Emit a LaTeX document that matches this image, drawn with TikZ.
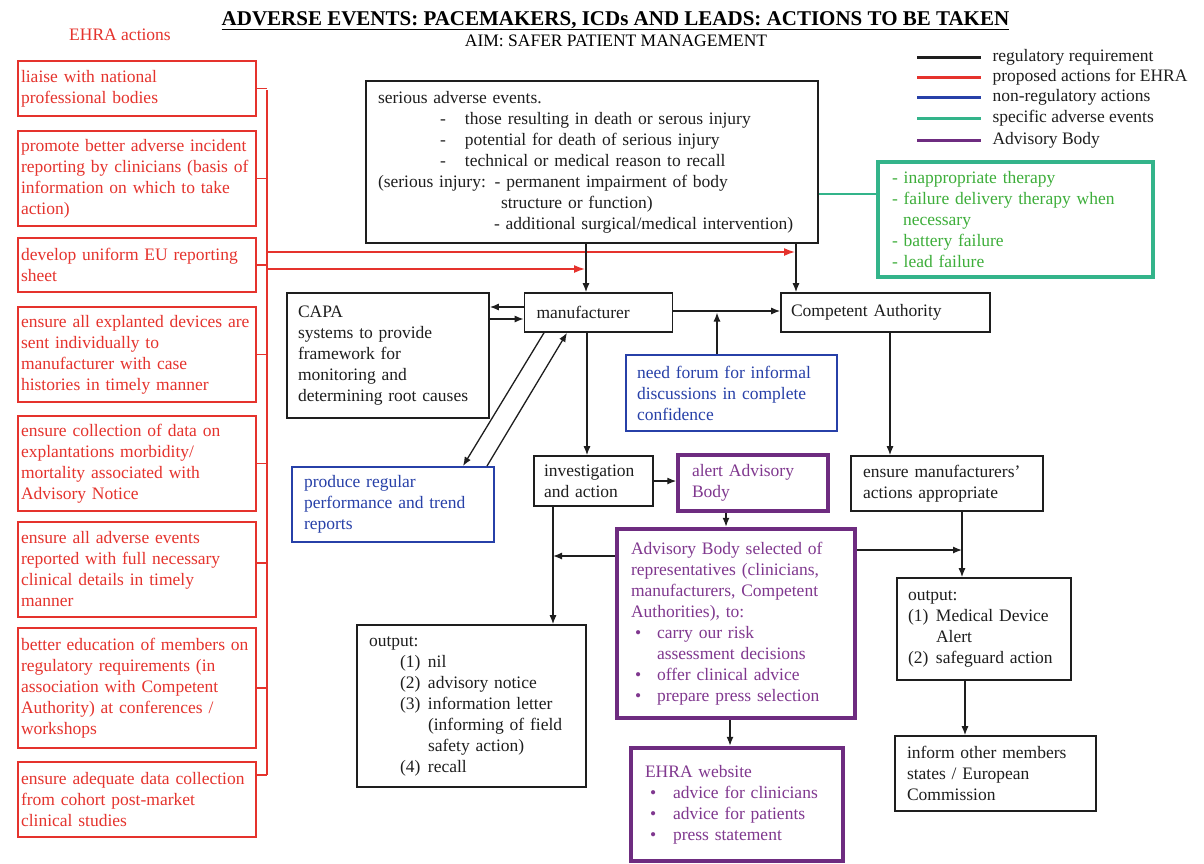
\documentclass[tikz,border=0pt]{standalone}
\usepackage{fontspec}
\setmainfont{Liberation Serif}
\usetikzlibrary{arrows.meta}
\definecolor{ehrared}{HTML}{E5332D}
\definecolor{nrblue}{HTML}{2740A8}
\definecolor{abline}{HTML}{6E2C80}
\definecolor{abtext}{HTML}{80388F}
\definecolor{segreen}{HTML}{33B48A}
\definecolor{setext}{HTML}{3DAE3A}
\definecolor{inkblack}{HTML}{1E1E1E}
\newcommand\abul{\hspace*{4pt}\makebox[22pt][l]{\textbullet}}
\newcommand\wbul{\hspace*{5pt}\makebox[23pt][l]{\textbullet}}
\begin{document}
\begin{tikzpicture}[x=1pt,y=-1pt,
  every node/.style={font=\fontsize{17.5}{21}\selectfont, inner ysep=0pt},
  redbox/.style={draw=ehrared, line width=2pt, text=ehrared, minimum width=238pt, text width=232pt, inner xsep=3pt, align=left},
  blkbox/.style={draw=inkblack, line width=1.6pt, text=inkblack, align=left},
  bluebox/.style={draw=nrblue, line width=2pt, text=nrblue, align=left},
  purbox/.style={draw=abline, line width=#1, text=abtext, align=left},
  arr/.style={draw=inkblack, line width=1.3pt, -{Latex[length=9pt,width=7pt]}},
  redln/.style={draw=ehrared, line width=1.5pt},
  redarr/.style={draw=ehrared, line width=1.5pt, -{Latex[length=11pt,width=8pt]}},
]
\fill[white] (0,0) rectangle (1204,863);
\useasboundingbox (0,0) rectangle (1204,863);

% titles
\node[anchor=base, font=\fontsize{21}{24}\selectfont\bfseries] (title) at (615.5,25) {\underline{ADVERSE EVENTS: PACEMAKERS, ICDs AND LEADS: ACTIONS TO BE TAKEN}};
\node[anchor=base] (aim) at (616,46) {AIM: SAFER PATIENT MANAGEMENT};
\node[anchor=base, text=ehrared] (ehra) at (120,40) {EHRA actions};

% legend
\foreach \y/\c/\t [count=\i] in {57/inkblack/regulatory requirement, 77/ehrared/proposed actions for EHRA, 97/nrblue/non-regulatory actions, 118/segreen/specific adverse events, 140/abline/Advisory Body}{
  \draw[\c, line width=3pt] (917,\y) -- (981,\y);
  \node[anchor=west, text=inkblack] (leg\i) at (989,\y) {\t};
}

% EHRA action boxes
\node[redbox, minimum height=55pt] (r1) at (137,88.5) {liaise with national\\professional bodies};
\node[redbox, minimum height=95pt] (r2) at (137,178.5) {promote better adverse incident\\reporting by clinicians (basis of\\information on which to take\\action)};
\node[redbox, minimum height=54pt] (r3) at (137,265) {develop uniform EU reporting\\sheet};
\node[redbox, minimum height=95pt] (r4) at (137,354.5) {ensure all explanted devices are\\sent individually to\\manufacturer with case\\histories in timely manner};
\node[redbox, minimum height=95pt] (r5) at (137,463.5) {ensure collection of data on\\explantations morbidity/\\mortality associated with\\Advisory Notice};
\node[redbox, minimum height=95pt] (r6) at (137,569.5) {ensure all adverse events\\reported with full necessary\\clinical details in timely\\manner};
\node[redbox, minimum height=120pt] (r7) at (137,688) {better education of members on\\regulatory requirements (in\\association with Competent\\Authority) at conferences /\\workshops};
\node[redbox, minimum height=75pt] (r8) at (137,799.5) {ensure adequate data collection\\from cohort post-market\\clinical studies};

% main boxes
\node[blkbox, minimum width=452pt, minimum height=162pt, text width=428pt, inner xsep=12pt] (sae) at (592,162) {serious adverse events.\\
\hspace*{62pt}\makebox[25pt][l]{-}those resulting in death or serous injury\\
\hspace*{62pt}\makebox[25pt][l]{-}potential for death of serious injury\\
\hspace*{62pt}\makebox[25pt][l]{-}technical or medical reason to recall\\
(serious injury: - permanent impairment of body\\
\hspace*{123pt}structure or function)\\
\hspace*{116pt}- additional surgical/medical intervention)};

\node[draw=segreen, line width=4pt, text=setext, align=left, minimum width=275pt, minimum height=115pt, text width=247pt, inner xsep=14pt] (spec) at (1015.5,219.5) {- inappropriate therapy\\- failure delivery therapy when\\\hspace*{11pt}necessary\\- battery failure\\- lead failure};

\node[blkbox, minimum width=202pt, minimum height=125pt, text width=180pt, inner xsep=11pt] (capa) at (388,355.5) {CAPA\\systems to provide\\framework for\\monitoring and\\determining root causes};
\node[blkbox, minimum width=148pt, minimum height=39pt, text width=124pt, inner xsep=12pt] (man) at (598.5,312.5) {manufacturer};
\node[blkbox, minimum width=209pt, minimum height=39pt, text width=189pt, inner xsep=10pt] (comp) at (885.5,312.5) {Competent Authority};
\node[bluebox, minimum width=202pt, minimum height=75pt, text width=178pt, inner xsep=12pt] (prod) at (393,504.5) {produce regular\\performance and trend\\reports};
\node[bluebox, minimum width=211pt, minimum height=76pt, text width=189pt, inner xsep=11pt] (need) at (731.5,393) {need forum for informal\\discussions in complete\\confidence};
\node[blkbox, minimum width=119pt, minimum height=50pt, text width=99pt, inner xsep=10pt] (inv) at (593.5,481) {investigation\\and action};
\node[purbox=3.5pt, minimum width=150pt, minimum height=56pt, text width=122pt, inner xsep=14pt] (alert) at (753,483) {alert Advisory\\Body};
\node[blkbox, minimum width=192pt, minimum height=55pt, text width=168pt, inner xsep=12pt] (ens) at (947,483.5) {ensure manufacturers'\\actions appropriate};
\node[purbox=4.5pt, minimum width=238pt, minimum height=189pt, text width=210pt, inner xsep=14pt] (adv) at (736,623.5) {Advisory Body selected of\\representatives (clinicians,\\manufacturers, Competent\\Authorities), to:\\
\abul carry our risk\\\hspace*{26pt}assessment decisions\\\abul offer clinical advice\\\abul prepare press selection};
\node[purbox=4.5pt, minimum width=212pt, minimum height=113pt, text width=184pt, inner xsep=14pt] (web) at (737,804.5) {EHRA website\\\wbul advice for clinicians\\\wbul advice for patients\\\wbul press statement};
\node[blkbox, minimum width=229pt, minimum height=162pt, text width=205pt, inner xsep=12pt] (out1) at (471.5,706) {output:\\
\hspace*{31pt}\makebox[28pt][l]{(1)}nil\\
\hspace*{31pt}\makebox[28pt][l]{(2)}advisory notice\\
\hspace*{31pt}\makebox[28pt][l]{(3)}information letter\\
\hspace*{59pt}(informing of field\\
\hspace*{59pt}safety action)\\
\hspace*{31pt}\makebox[28pt][l]{(4)}recall};
\node[blkbox, minimum width=174pt, minimum height=102pt, text width=152pt, inner xsep=11pt] (out2) at (984,629) {output:\\\makebox[28pt][l]{(1)}Medical Device\\\hspace*{28pt}Alert\\\makebox[28pt][l]{(2)}safeguard action};
\node[blkbox, minimum width=201pt, minimum height=75pt, text width=177pt, inner xsep=12pt] (inf) at (995.5,773.5) {inform other members\\states / European\\Commission};

% red bus and stubs
\coordinate (bustop) at (267,90);
\coordinate (busbot) at (267,775);
\coordinate (redA) at (267,252);
\coordinate (redB) at (267,269);
\draw[redln] (bustop) -- (busbot);
\foreach \n in {r1,r2,r3,r4,r5,r7}{\draw[redln] (\n.east) -- (\n.east -| bustop);}
\draw[redln] ([yshift=6.5pt]r6.east) -- ([yshift=6.5pt]r6.east -| bustop);
\draw[redln] (r8.east |- busbot) -- (busbot);
\draw[redarr] (redA) -- ([xshift=-90.5pt]comp.north |- redA);
\draw[redarr] (redB) -- ([xshift=-13.5pt]man.north |- redB);

% black connectors
\draw[arr] ([xshift=-12.5pt]man.north |- sae.south) -- ([xshift=-12.5pt]man.north);
\draw[arr] ([xshift=-89.5pt]comp.north |- sae.south) -- ([xshift=-89.5pt]comp.north);
\draw[arr] ([yshift=5.5pt]man.west) -- ([yshift=5.5pt]man.west -| capa.east);
\draw[arr] ([yshift=-6.5pt]man.west -| capa.east) -- ([yshift=-6.5pt]man.west);
\draw[arr] ([yshift=1.5pt]man.east) -- ([yshift=1.5pt]man.east -| comp.west);
\draw[arr] ([xshift=-14.5pt]need.north) -- ([xshift=-14.5pt]need.north |- man.east);
\draw[arr] ([xshift=-54.5pt]man.south) -- ([xshift=70pt]prod.north);
\draw[arr] ([xshift=94pt]prod.north) -- ([xshift=-31.5pt]man.south);
\draw[arr] ([xshift=-11.5pt]man.south) -- ([xshift=-11.5pt]man.south |- inv.north);
\draw[arr] ([xshift=4.5pt]comp.south) -- ([xshift=4.5pt]comp.south |- ens.north);
\draw[arr] (inv.east) -- (inv.east -| alert.west);
\draw[arr] ([xshift=-27pt]alert.south) -- ([xshift=-27pt]alert.south |- adv.north);
\path ([xshift=-40.5pt]inv.south) coordinate (invout);
\path ([yshift=67.5pt]adv.west) coordinate (advl);
\path ([yshift=73.5pt]adv.east) coordinate (advr);
\path ([xshift=15pt]ens.south) coordinate (ensout);
\draw[arr] (invout) -- (invout |- out1.north);
\draw[arr] (advl) -- (advl -| invout);
\draw[arr] (advr) -- (advr -| ensout);
\draw[arr] (ensout) -- (ensout |- out2.north);
\draw[arr] ([xshift=-19pt]out2.south) -- ([xshift=-19pt]out2.south |- inf.north);
\draw[arr] ([xshift=-6pt]adv.south) -- ([xshift=-6pt]adv.south |- web.north);
\draw[segreen, line width=1.5pt] ([yshift=-32pt]sae.east) -- ([yshift=-32pt]sae.east -| spec.west);
\end{tikzpicture}
\end{document}
